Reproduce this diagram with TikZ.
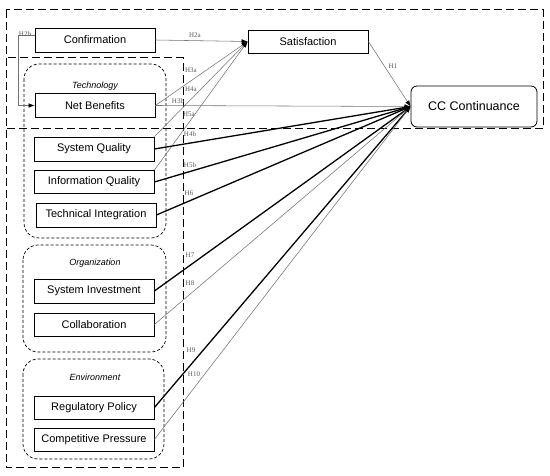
\documentclass[tikz,border=0pt]{standalone}
\usepackage{fontspec}
\setmainfont{Liberation Sans}
\newfontfamily\hfont{Liberation Serif}
\usetikzlibrary{arrows.meta}
\tikzset{
  box/.style={draw, line width=0.8pt, fill=white, minimum width=120pt, minimum height=24pt, inner sep=0pt, font=\fontsize{11}{12}\selectfont},
  grp/.style={draw, dashed, line width=0.7pt, dash pattern=on 3pt off 2pt, rounded corners=15pt},
  outer/.style={draw, line width=1pt, dash pattern=on 8pt off 4pt},
  glabel/.style={font=\itshape\fontsize{9}{10}\selectfont},
  hl/.style={font=\hfont\fontsize{7}{8}\selectfont, text=black!65, inner sep=0pt},
  thin/.style={draw=black!55, line width=0.55pt, -{Latex[length=6pt,width=4.5pt,color=black]}},
  thick/.style={draw=black, line width=1.3pt, -{Latex[length=6pt,width=4.5pt]}},
}
\begin{document}
\begin{tikzpicture}[x=1pt,y=-1pt]
\useasboundingbox (0,0) rectangle (550,476);
% outer dashed frames
\draw[outer] (6,10) rectangle (543,129);
\draw[outer] (6,58) rectangle (183,468);
% groups
\draw[grp] (24,64) rectangle (166,238);
\draw[grp] (23,245) rectangle (166,352);
\draw[grp] (23,359) rectangle (164,459);
\node[glabel] (tech) at (95,86) {Technology};
\node[glabel] (org) at (95,263) {Organization};
\node[glabel] (env) at (95,377) {Environment};
% nodes
\node[box] (conf) at (95,40) {Confirmation};
\node[box, minimum height=23pt] (sat) at (308,41.5) {Satisfaction};
\node[box, minimum width=126pt, minimum height=41pt, rounded corners=6pt, font=\fontsize{12.5}{14}\selectfont] (cc) at (474,106.5) {CC Continuance};
\node[box] (nb) at (95,105.5) {Net Benefits};
\node[box] (sq) at (94,149) {System Quality};
\node[box, minimum height=23pt] (iq) at (94,182) {Information Quality};
\node[box] (ti) at (96,215) {Technical Integration};
\node[box] (si) at (94,291) {System Investment};
\node[box, minimum height=23pt] (col) at (94,324.5) {Collaboration};
\node[box, minimum height=23pt] (rp) at (94,407.5) {Regulatory Policy};
\node[box, minimum height=23pt] (cp) at (94,439.5) {Competitive Pressure};
% connectors
\coordinate (h2bt) at (18,35);
\coordinate (h2bb) at (18,105.5);
\draw[thin] (conf.west |- h2bt) -- (h2bt) -- (h2bb) -- (nb.west);
\draw[thin] (conf.east) -- (sat.west);
\draw[thin] (nb.east) -- (sat.west);
\draw[thin] (sq.north east) -- (sat.west);
\draw[thin] (iq.north east) -- (sat.west);
\draw[thin] (nb.east) -- (cc.west);
\draw[thin] (sat.east) -- (cc.west);
\draw[thick] (sq.east) -- (cc.west);
\draw[thick] (iq.east) -- (cc.west);
\draw[thick] (ti.east) -- (cc.west);
\draw[thick] (si.east) -- (cc.west);
\draw[thin] (col.east) -- (cc.west);
\draw[thick] (rp.east) -- (cc.west);
\draw[thin] (cp.east) -- (cc.west);
% labels
\node[hl] (l2b) at (25,34) {H2b};
\node[hl] (l2a) at (195,35) {H2a};
\node[hl] (l3a) at (191,70) {H3a};
\node[hl] (l4a) at (191,89) {H4a};
\node[hl] (l3b) at (178,101) {H3b};
\node[hl] (l5a) at (189,114) {H5a};
\node[hl] (l1) at (393,66) {H1};
\node[hl] (l4b) at (190,134) {H4b};
\node[hl] (l5b) at (190,165) {H5b};
\node[hl] (l6) at (189,193) {H6};
\node[hl] (l7) at (190,255) {H7};
\node[hl] (l8) at (190,283) {H8};
\node[hl] (l9) at (191,350) {H9};
\node[hl] (l10) at (194,374) {H10};
\end{tikzpicture}
\end{document}
